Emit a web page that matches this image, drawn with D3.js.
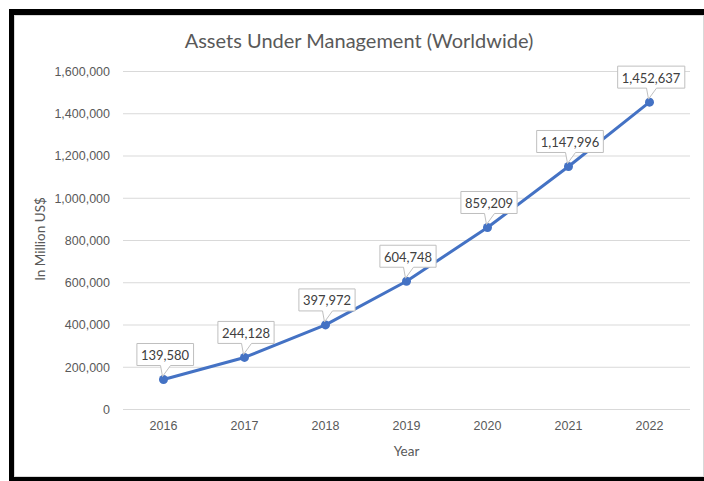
<!DOCTYPE html>
<html>
  <head>
    <style>
      body {
        margin: 0;
        background: #fff;
        font-family: Lato, "Open Sans", sans-serif;
      }
      .grid line { stroke: #d9d9d9; stroke-width: 1px; }
      .grid .domain { display: none; }
      .tick text { fill: #595959; font-size: 12.5px; }
      .aum-line { fill: none; stroke: #4472c4; stroke-width: 3px; stroke-linejoin: round; }
    </style>
  </head>
  <body>
    <script src="https://d3js.org/d3.v7.min.js"></script>
    <script>
      // data
      var years = ["2016", "2017", "2018", "2019", "2020", "2021", "2022"];
      var aum = [139580, 244128, 397972, 604748, 859209, 1147996, 1452637];
      var y_ticks = [0, 200000, 400000, 600000, 800000, 1000000, 1200000, 1400000, 1600000];

      var W = 704, H = 481;
      var margin = {left: 123, right: 14, top: 71, bottom: 72};

      var svg = d3.select("body").append("svg")
          .attr("width", W)
          .attr("height", H);

      // frame: black band top/left/bottom, thin grey chart border inside
      svg.append("rect").attr("x", 9).attr("y", 9).attr("width", W - 9).attr("height", H - 9).attr("fill", "#000");
      svg.append("rect").attr("x", 14).attr("y", 15).attr("width", W - 14).attr("height", 462).attr("fill", "#d9d9d9");
      svg.append("rect").attr("x", 15).attr("y", 16).attr("width", W - 16).attr("height", 460).attr("fill", "#fff");

      var x_scale = d3.scaleBand()
          .domain(years)
          .range([margin.left, W - margin.right])
          .padding(0);
      var y_scale = d3.scaleLinear()
          .domain([0, 1600000])
          .range([H - margin.bottom, margin.top]);

      // y grid + labels
      svg.append("g")
          .attr("class", "grid")
          .attr("transform", "translate(" + margin.left + ",0)")
          .call(d3.axisLeft(y_scale)
            .tickValues(y_ticks)
            .tickFormat(d3.format(","))
            .tickSize(-(W - margin.right - margin.left))
            .tickPadding(13))
          .selectAll("text").attr("dy", "0.35em");

      // x labels
      var x_axis = svg.append("g")
          .attr("transform", "translate(0," + (H - margin.bottom) + ")")
          .call(d3.axisBottom(x_scale).tickSize(0).tickPadding(12));
      x_axis.select(".domain").remove();

      // titles
      svg.append("text")
          .attr("x", 359).attr("y", 48)
          .attr("text-anchor", "middle")
          .attr("fill", "#595959")
          .style("font-size", "20px")
          .text("Assets Under Management (Worldwide)");

      svg.append("text")
          .attr("x", (margin.left + W - margin.right) / 2).attr("y", 456)
          .attr("text-anchor", "middle")
          .attr("fill", "#595959")
          .style("font-size", "13.5px")
          .text("Year");

      svg.append("text")
          .attr("transform", "translate(45,239) rotate(-90)")
          .attr("text-anchor", "middle")
          .attr("fill", "#595959")
          .style("font-size", "13.5px")
          .text("In Million US$");

      // line + markers
      var pts = years.map((d, i) => [x_scale(d) + x_scale.bandwidth() / 2, y_scale(aum[i]), aum[i]]);

      svg.append("path")
          .datum(pts)
          .attr("class", "aum-line")
          .attr("d", d3.line().x(d => d[0]).y(d => d[1]));

      svg.selectAll("circle.mk")
          .data(pts)
        .enter().append("circle")
          .attr("class", "mk")
          .attr("cx", d => d[0])
          .attr("cy", d => d[1])
          .attr("r", 4.5)
          .attr("fill", "#4472c4");

      // callout labels
      var fmt = d3.format(",");
      var labels = svg.selectAll("g.lbl")
          .data(pts)
        .enter().append("g")
          .attr("class", "lbl");

      labels.each(function(d) {
        var g = d3.select(this);
        var t = g.append("text")
            .attr("x", d[0] + 1.5)
            .attr("y", d[1] - 19.5)
            .attr("text-anchor", "middle")
            .attr("fill", "#404040")
            .style("font-size", "13px")
            .text(fmt(d[2]));
        var bb = t.node().getBBox();
        var x0 = bb.x - 4, x1 = bb.x + bb.width + 4;
        var y0 = d[1] - 36, y1 = d[1] - 14;
        var cx = d[0] + 1;
        var path = "M" + x0 + "," + y0 + "H" + x1 + "V" + y1 +
            "H" + (cx + 6) + "L" + (d[0] - 1) + "," + (d[1] - 3) +
            "L" + (cx - 4) + "," + y1 + "H" + x0 + "Z";
        g.insert("path", "text")
            .attr("d", path)
            .attr("fill", "#fff")
            .attr("stroke", "#bfbfbf")
            .attr("stroke-width", 1);
      });
    </script>
  </body>
</html>
